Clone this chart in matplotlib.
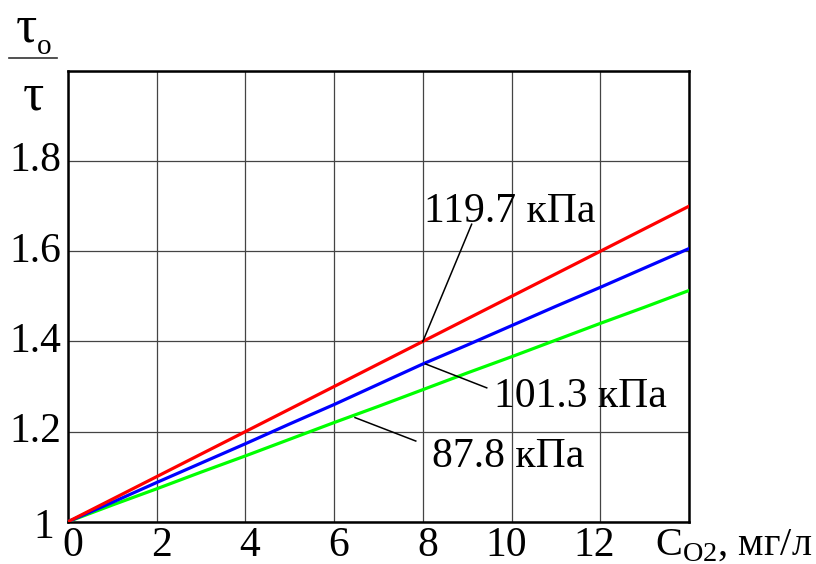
import numpy as np
import matplotlib
matplotlib.use("Agg")
import matplotlib.pyplot as plt
from matplotlib import transforms
from matplotlib.lines import Line2D

plt.rcParams['font.family'] = ['Liberation Serif', 'DejaVu Serif']
plt.rcParams['mathtext.fontset'] = 'custom'
plt.rcParams['mathtext.rm'] = 'Liberation Serif'

# данные
c_o2 = [0, 1, 2, 3, 4, 5, 6, 7, 8, 9, 10, 11, 12, 13, 14]
p_119 = [1.0, 1.05, 1.10, 1.15, 1.20, 1.25, 1.30, 1.35, 1.40, 1.45, 1.50, 1.55, 1.60, 1.65, 1.70]
p_101 = [1.0, 1.043, 1.087, 1.13, 1.173, 1.217, 1.26, 1.305, 1.35, 1.392, 1.435, 1.478, 1.52, 1.563, 1.606]
p_88 = [1.0, 1.037, 1.073, 1.11, 1.146, 1.183, 1.22, 1.256, 1.293, 1.33, 1.366, 1.403, 1.44, 1.476, 1.513]

x_ticks = [0, 2, 4, 6, 8, 10, 12]
y_ticks = [1.0, 1.2, 1.4, 1.6, 1.8]
y_labels = ['1', '1.2', '1.4', '1.6', '1.8']

fig = plt.figure(figsize=(8.16, 5.64), dpi=100)
ax = fig.add_axes([68 / 816, 1 - 521.7 / 564, 621 / 816, 450.7 / 564])

ax.plot(c_o2, p_88, color='#00ff00', lw=2.3, zorder=3)
ax.plot(c_o2, p_101, color='#0000ff', lw=2.3, zorder=4)
ax.plot(c_o2, p_119, color='#ff0000', lw=2.3, zorder=5)

ax.set_xlim(0, 14)
ax.set_ylim(1.0, 2.0)
ax.set_xticks(np.arange(0, 15, 2))
ax.set_yticks([1.0, 1.2, 1.4, 1.6, 1.8, 2.0])
ax.grid(True, color='#444444', lw=0.9)
ax.tick_params(length=0, labelleft=False, labelbottom=False)
for s in ax.spines.values():
    s.set_linewidth(1.8)
    s.set_color('black')

fs = 30
# подписи оси x (сдвинуты вправо от линий сетки)
off_x = transforms.ScaledTranslation(15 / 100, -5 / 100, fig.dpi_scale_trans)
for v in x_ticks:
    ax.text(v, 1.0, str(v), ha='right', va='top', fontsize=fs,
            transform=ax.transData + off_x)
# подписи оси y
off_y = transforms.ScaledTranslation(-7 / 100, 0, fig.dpi_scale_trans)
off_one = transforms.ScaledTranslation(-14 / 100, -6 / 100, fig.dpi_scale_trans)
for v, lab in zip(y_ticks, y_labels):
    tr = ax.transData + (off_one if lab == '1' else off_y)
    ax.text(0, v, lab, ha='right', va='center', fontsize=fs, transform=tr)

# подписи кривых
ax.text(8.02, 1.664, '119.7 кПа', fontsize=fs, va='baseline', ha='left')
ax.text(9.6, 1.2556, '101.3 кПа', fontsize=fs, va='baseline', ha='left')
ax.text(8.2, 1.122, '87.8 кПа', fontsize=fs, va='baseline', ha='left')
ax.plot([8.0, 9.10], [1.40, 1.660], color='black', lw=1.1, zorder=6)
ax.plot([8.06, 9.44], [1.350, 1.297], color='black', lw=1.1, zorder=6)
ax.plot([6.47, 7.84], [1.231, 1.179], color='black', lw=1.1, zorder=6)

# подпись оси x
fig.text(655 / 816, 1 - 546 / 564, r'C$_{\mathrm{O2}}$, мг/л', fontsize=29,
         ha='left', va='center')

# подпись оси y: дробь tau_o / tau
fig.text(26 / 816, 1 - 28 / 564, 'τ', fontsize=38, ha='center', va='center')
fig.text(44 / 816, 1 - 47 / 564, 'o', fontsize=21, ha='center', va='center')
fig.add_artist(Line2D([9 / 816, 57 / 816], [1 - 57.7 / 564, 1 - 57.7 / 564],
                      color='#333333', lw=1.2))
fig.text(33 / 816, 1 - 96 / 564, 'τ', fontsize=38, ha='center', va='center')

fig.savefig('out.png', dpi=100)
